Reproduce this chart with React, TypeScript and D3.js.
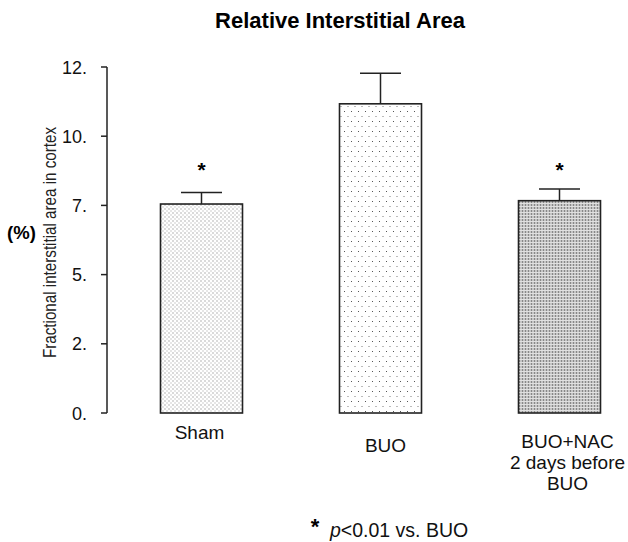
import React from 'react';
import * as d3 from 'd3';

// values
const categories = ['Sham', 'BUO', 'BUO+NAC'];
const categoryLines = [['Sham'], ['BUO'], ['BUO+NAC', '2 days before', 'BUO']];
const means = [7.55, 11.17, 7.67];
const errors = [0.42, 1.1, 0.42];
const significant = [true, false, true];
const yTicks = [0, 2.5, 5, 7.5, 10, 12.5];
const yTickLabels = ['0.', '2.', '5.', '7.', '10.', '12.'];
const fills = ['url(#dotsFine)', 'url(#dotsSparse)', 'url(#hatchGrey)'];

const W = 628;
const H = 542;
const FONT = '"Liberation Sans", Arial, Helvetica, sans-serif';

export default function App() {
  const axisX = 107;
  const y = d3.scaleLinear().domain([0, 12.5]).range([413, 67]);
  const x = d3.scalePoint<string>().domain(categories).range([201.5, 559.5]);
  const barW = 82;
  const capW = 41;
  // category labels sit a bit off the bar centres in the original
  const labelShift = [-2, 5, 8];
  const labelTop = [439, 452, 448];

  return (
    <svg width={W} height={H} style={{ position: 'absolute', left: 0, top: 0, background: '#fff' }}>
      <defs>
        <pattern id="dotsFine" width={4} height={4} patternUnits="userSpaceOnUse">
          <rect width={4} height={4} fill="#fff" />
          <rect x={0.5} y={0.5} width={1} height={1} fill="#6e6e6e" />
          <rect x={2.5} y={2.5} width={1} height={1} fill="#9e9e9e" />
        </pattern>
        <pattern id="dotsSparse" width={7} height={10} patternUnits="userSpaceOnUse">
          <rect width={7} height={10} fill="#fff" />
          <rect x={1} y={1} width={1} height={1} fill="#555" />
          <rect x={4.5} y={6} width={1} height={1} fill="#777" />
        </pattern>
        <pattern id="hatchGrey" width={3} height={3} patternUnits="userSpaceOnUse">
          <rect width={3} height={3} fill="#c4c4c4" />
          <rect x={0} y={0} width={1} height={3} fill="#888" />
          <rect x={0} y={2} width={3} height={1} fill="#e0e0e0" />
        </pattern>
      </defs>

      {/* title */}
      <text x={340} y={28} textAnchor="middle" fontFamily={FONT} fontSize={22} fontWeight="bold" fill="#000">
        Relative Interstitial Area
      </text>

      {/* y axis */}
      <line x1={axisX} x2={axisX} y1={y(12.5)} y2={y(0)} stroke="#222" strokeWidth={1.5} />
      {yTicks.map((t, i) => (
        <g key={t}>
          <line x1={axisX - 6} x2={axisX} y1={y(t)} y2={y(t)} stroke="#222" strokeWidth={1.5} />
          <text x={87} y={y(t) + 6.5} textAnchor="end" fontFamily={FONT} fontSize={18} fill="#111">
            {yTickLabels[i]}
          </text>
        </g>
      ))}

      <text
        transform="translate(56,242.5) rotate(-90)"
        textAnchor="middle"
        fontFamily={FONT}
        fontSize={18.5}
        textLength={231}
        lengthAdjust="spacingAndGlyphs"
        fill="#222"
      >
        Fractional interstitial area in cortex
      </text>
      <text x={21.5} y={238.5} textAnchor="middle" fontFamily={FONT} fontSize={18.5} fontWeight="bold" fill="#000">
        (%)
      </text>

      {/* bars */}
      {categories.map((c, i) => {
        const cx = x(c) as number;
        const top = y(means[i]);
        const errTop = y(means[i] + errors[i]);
        return (
          <g key={c}>
            <rect
              x={cx - barW / 2}
              y={top}
              width={barW}
              height={y(0) - top}
              fill={fills[i]}
              stroke="#222"
              strokeWidth={1.6}
            />
            <line x1={cx} x2={cx} y1={top} y2={errTop} stroke="#222" strokeWidth={1.5} />
            <line x1={cx - capW / 2} x2={cx + capW / 2} y1={errTop} y2={errTop} stroke="#222" strokeWidth={1.5} />
            {significant[i] && (
              <text x={cx} y={177} textAnchor="middle" fontFamily={FONT} fontSize={21} fontWeight="bold" fill="#000">
                *
              </text>
            )}
            {categoryLines[i].map((ln, k) => (
              <text
                key={k}
                x={cx + labelShift[i]}
                y={labelTop[i] + k * 21}
                textAnchor="middle"
                fontFamily={FONT}
                fontSize={19}
                fill="#111"
              >
                {ln}
              </text>
            ))}
          </g>
        );
      })}

      {/* footnote */}
      <text x={315} y={534} textAnchor="middle" fontFamily={FONT} fontSize={22} fontWeight="bold" fill="#000">
        *
      </text>
      <text x={330} y={537} fontFamily={FONT} fontSize={19.5} fill="#111">
        <tspan fontStyle="italic">p</tspan>&lt;0.01 vs. BUO
      </text>
    </svg>
  );
}
